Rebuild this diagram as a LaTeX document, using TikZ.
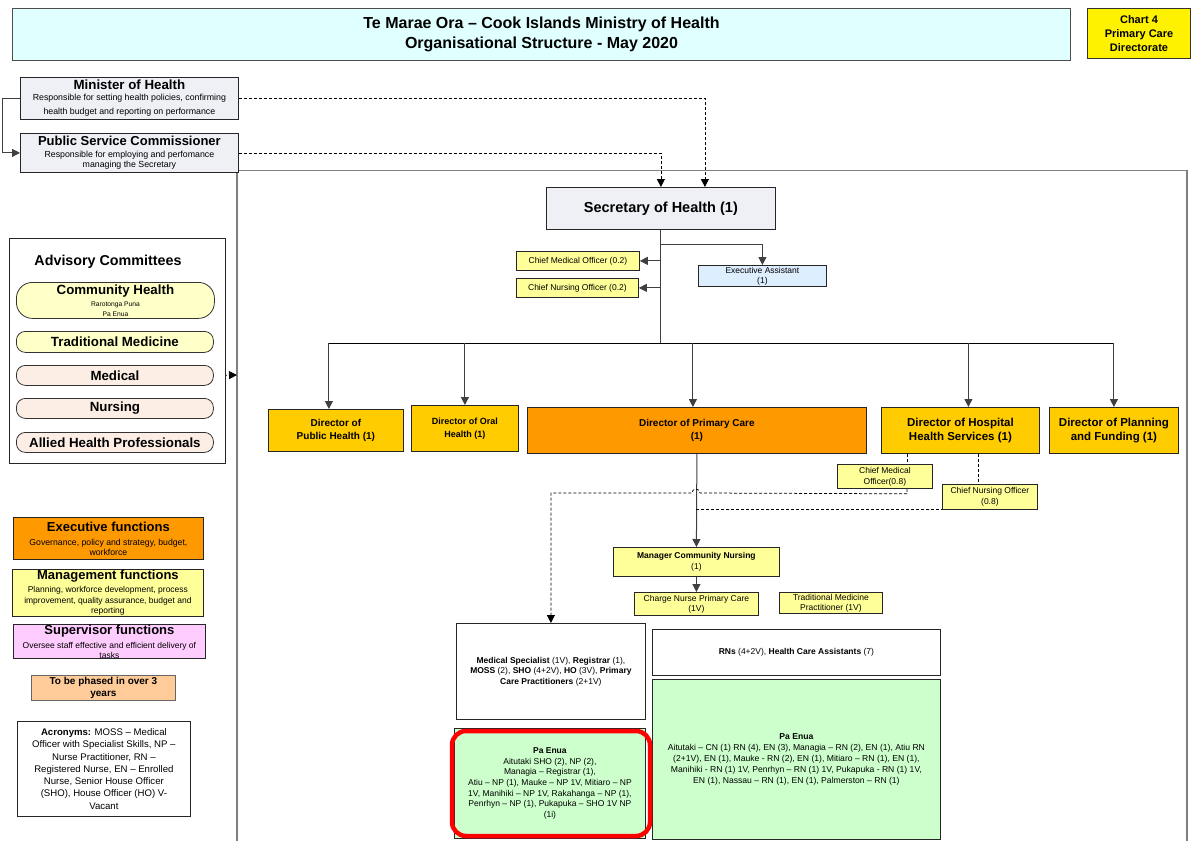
\documentclass[tikz,border=0pt]{standalone}
\usepackage{fontspec}
\setmainfont{Liberation Sans}
\usetikzlibrary{arrows.meta}
\newcommand{\fsz}[2]{\fontsize{#1}{#2}\selectfont}
\definecolor{titlecyan}{HTML}{E0FFFF}
\definecolor{secfill}{HTML}{EEF0F6}
\definecolor{gold}{HTML}{FFCC00}
\definecolor{orng}{HTML}{FF9900}
\definecolor{lyellow}{HTML}{FFFF99}
\definecolor{eablue}{HTML}{DDEEFF}
\definecolor{lgreen}{HTML}{CCFFCC}
\definecolor{pillyel}{HTML}{FFFFC8}
\definecolor{pillpeach}{HTML}{FCEEE4}
\definecolor{pinkf}{HTML}{FFCCFF}
\definecolor{peachf}{HTML}{FFCC99}
\definecolor{framegray}{HTML}{7F7F7F}
\pgfdeclarelayer{bg}
\pgfsetlayers{bg,main}
\begin{document}
\begin{tikzpicture}[x=1pt,y=-1pt,
  box/.style={draw=black!85, line width=0.8pt, inner sep=0pt, align=center, anchor=north west},
  sz/.style 2 args={minimum width=#1pt, minimum height=#2pt},
  pill/.style={box, rounded corners=9pt, draw=black!80},
  conn/.style={draw=black!75, line width=1pt},
  arr/.style={conn, -{Triangle[length=8pt,width=8pt]}},
  dsh/.style={draw=black, line width=0.75pt, dash pattern=on 3pt off 2pt},
  darr/.style={dsh, -{Triangle[length=8pt,width=8pt]}},
  lbl/.style={inner sep=0pt, align=center}
]
\useasboundingbox (0,0) rectangle (1198,840);

% ---------- header ----------
\node[box, sz={1058}{52}, fill=titlecyan, draw=black!70, line width=1pt, font=\fsz{16}{20}\bfseries] (title) at (12,8)
  {Te Marae Ora – Cook Islands Ministry of Health\\ Organisational Structure - May 2020};
\node[box, sz={103}{50}, fill=yellow, draw=black!80, line width=1pt, font=\fsz{11}{14}\bfseries] (chart) at (1087,8)
  {Chart 4\\ Primary Care\\ Directorate};

\node[box, sz={218}{42}, fill=secfill, font=\fsz{8.8}{14}] (min) at (20,77)
  {\fsz{13.3}{13}\bfseries Minister of Health\\[-3pt]
   Responsible for setting health policies, confirming\\ health budget and reporting on performance};
\node[box, sz={218}{39}, fill=secfill, font=\fsz{8.8}{10}] (psc) at (20,133)
  {\fsz{13}{13}\bfseries Public Service Commissioner\\[2pt]
   Responsible for employing and perfomance\\ managing the Secretary};

% ---------- secretary ----------
\node[box, sz={229}{42}, fill=secfill, font=\fsz{14.5}{16}\bfseries] (sec) at (546,187)
  {Secretary of Health (1)};
\node[box, sz={123}{19}, fill=lyellow, font=\fsz{8.5}{10}] (cmoA) at (516,251) {Chief Medical Officer (0.2)};
\node[box, sz={122}{19}, fill=lyellow, font=\fsz{8.5}{10}] (cnoA) at (516,278) {Chief Nursing Officer (0.2)};
\node[box, sz={128}{21}, fill=eablue, font=\fsz{8.5}{10}] (ea) at (698,265) {Executive Assistant\\ (1)};

% ---------- directors ----------
\node[box, sz={135}{42}, fill=gold, font=\fsz{10}{13}\bfseries] (dph) at (268,409) {Director of\\ Public Health (1)};
\node[box, sz={107}{46}, fill=gold, font=\fsz{9}{13}\bfseries] (doh) at (411,405) {Director of Oral\\ Health (1)};
\node[box, sz={339}{46}, fill=orng, font=\fsz{10}{13}\bfseries] (dpc) at (527,407) {Director of Primary Care\\ (1)};
\node[box, sz={158}{46}, fill=gold, font=\fsz{11.5}{14}\bfseries] (dhs) at (881,407) {Director of Hospital\\ Health Services (1)};
\node[box, sz={129}{46}, fill=gold, font=\fsz{11.5}{14}\bfseries] (dpf) at (1049,407) {Director of Planning\\ and Funding (1)};

\node[box, sz={95}{24}, fill=lyellow, font=\fsz{8.5}{11}] (cmoB) at (837,464) {Chief Medical\\ Officer(0.8)};
\node[box, sz={95}{25}, fill=lyellow, font=\fsz{8.5}{11}] (cnoB) at (942,484) {Chief Nursing Officer\\ (0.8)};

\node[box, sz={166}{29}, fill=lyellow, font=\fsz{8.5}{11}] (mcn) at (613,547) {\textbf{Manager Community Nursing}\\ (1)};
\node[box, sz={124}{23}, fill=lyellow, font=\fsz{8.5}{10}] (cnp) at (634,592) {Charge Nurse Primary Care\\ (1V)};
\node[box, sz={103}{21}, fill=lyellow, font=\fsz{8.5}{10}] (tmp) at (779,592) {Traditional Medicine\\ Practitioner (1V)};

% ---------- bottom boxes ----------
\node[box, sz={189}{96}, fill=white, font=\fsz{8.5}{10.5}] (msp) at (456,623)
  {\textbf{Medical Specialist} (1V), \textbf{Registrar} (1),\\
   \textbf{MOSS} (2), \textbf{SHO} (4+2V), \textbf{HO} (3V), \textbf{Primary}\\
   \textbf{Care Practitioners} (2+1V)};
\node[box, sz={288}{46}, fill=white, font=\fsz{8.5}{10}] (rns) at (652,629)
  {\textbf{RNs} (4+2V), \textbf{Health Care Assistants} (7)};
\node[box, sz={191}{110}, fill=lgreen, font=\fsz{8.5}{10.7}] (pel) at (454,728)
  {\textbf{Pa Enua}\\ Aitutaki SHO (2), NP (2),\\ Managia – Registrar (1),\\
   Atiu – NP (1), Mauke – NP 1V, Mitiaro – NP\\ 1V, Manihiki – NP 1V, Rakahanga – NP (1),\\
   Penrhyn – NP (1), Pukapuka – SHO 1V NP\\ (1i)};
\node[box, sz={288}{160}, fill=lgreen, font=\fsz{8.6}{11}] (per) at (652,679)
  {\textbf{Pa Enua}\\
   Aitutaki – CN (1) RN (4), EN (3), Managia – RN (2), EN (1), Atiu RN\\
   (2+1V), EN (1), Mauke - RN (2), EN (1), Mitiaro – RN (1), EN (1),\\
   Manihiki - RN (1) 1V, Penrhyn – RN (1) 1V, Pukapuka - RN (1) 1V,\\
   EN (1), Nassau – RN (1), EN (1), Palmerston – RN (1)};
\draw[red, line width=4.5pt, rounded corners=14pt] (452,731) rectangle (650,836);

% ---------- advisory committees ----------
\node[box, sz={216}{225}, fill=white] (adv) at (9,238) {};
\node[lbl, font=\fsz{14.3}{16}\bfseries] (advt) at (108,262) {Advisory Committees};
\node[pill, sz={198}{36}, fill=pillyel, rounded corners=16pt, font=\fsz{6.7}{10}] (ch) at (16,282)
  {\fsz{13.3}{13}\bfseries Community Health\\[2pt] Rarotonga Puna\\ Pa Enua};
\node[pill, sz={197}{21}, fill=pillyel, font=\fsz{13.3}{14}\bfseries] (tm) at (16,331) {Traditional Medicine};
\node[pill, sz={197}{20}, fill=pillpeach, font=\fsz{13.3}{14}\bfseries] (med) at (16,365) {Medical};
\node[pill, sz={197}{20}, fill=pillpeach, font=\fsz{13.3}{14}\bfseries] (nur) at (16,398) {Nursing};
\node[pill, sz={197}{20}, fill=pillpeach, font=\fsz{13.3}{14}\bfseries] (ahp) at (16,432) {Allied Health Professionals};

% ---------- legend ----------
\node[box, sz={190}{42}, fill=orng, font=\fsz{8.7}{10}] (exe) at (13,517)
  {\fsz{13}{13}\bfseries Executive functions\\[4pt] Governance, policy and strategy, budget,\\ workforce};
\node[box, sz={191}{47}, fill=lyellow, font=\fsz{8.5}{10.5}] (mgt) at (12,569)
  {\fsz{13}{13}\bfseries Management functions\\[3pt] Planning, workforce development, process\\ improvement, quality assurance, budget and\\ reporting};
\node[box, sz={192}{34}, fill=pinkf, font=\fsz{8.5}{10}] (sup) at (13,624)
  {\fsz{13}{13}\bfseries Supervisor functions\\[4pt] Oversee staff effective and efficient delivery of\\ tasks};
\node[box, sz={144}{25}, fill=peachf, draw=black!60, font=\fsz{10}{12}\bfseries] (tbp) at (31,675)
  {To be phased in over 3\\ years};
\node[box, sz={173}{95}, fill=white, font=\fsz{9.6}{12.3}] (acr) at (17,721)
  {\textbf{Acronyms:} MOSS – Medical\\ Officer with Specialist Skills, NP –\\ Nurse Practitioner, RN –\\
   Registered Nurse, EN – Enrolled\\ Nurse, Senior House Officer\\ (SHO), House Officer (HO) V-\\ Vacant};

\coordinate (frameL) at (237,375);
\coordinate (c907) at (907,0);
\coordinate (c978) at (978,0);

% ---------- connectors ----------
\begin{pgfonlayer}{bg}
  \draw[draw=framegray, line width=1.8pt] (237,845) -- (237,170.5) -- (1187,170.5) -- (1187,845);
  \draw[arr] (min.west) -- ++(-18,0) |- (psc.west);
  \draw[darr] (min.east) -| ([xshift=44pt]sec.north);
  \draw[darr] (psc.east) -| (sec.north);
  \draw[conn] (sec.south) -- (sec.south |- 0,343);
  \draw[arr] (sec.south |- cmoA.east) -- (cmoA.east);
  \draw[arr] (sec.south |- cnoA.east) -- (cnoA.east);
  \draw[arr] (sec.south) -- ++(0,15) -| (ea.north);
  \draw[draw=black, line width=0.9pt] ([xshift=-7pt]dph.north |- 0,343) -- (dpf.north |- 0,343);
  \draw[arr] ([xshift=-7pt]dph.north |- 0,343) -- ([xshift=-7pt]dph.north);
  \draw[arr] (doh.north |- 0,343) -- (doh.north);
  \draw[arr] ([xshift=-4pt]dpc.north |- 0,343) -- ([xshift=-4pt]dpc.north);
  \draw[arr] ([xshift=8pt]dhs.north |- 0,343) -- ([xshift=8pt]dhs.north);
  \draw[arr] (dpf.north |- 0,343) -- (dpf.north);
  \draw[arr] (dpc.south) -- (mcn.north);
  \draw[arr] (mcn.south) -- (cnp.north);
  \draw[dsh] (dhs.south -| c907) -- (cmoB.north -| c907);
  \draw[darr] (cmoB.south -| c907) -- ++(0,5) -- (700,493)
     arc[start angle=0, end angle=-180, radius=4] -- (msp.north |- 0,493) -- (msp.north);
  \draw[dsh] (dhs.south -| c978) -- (cnoB.south -| c978) -- (mcn.north |- cnoB.south);
  \draw[darr] (med.east) -- (frameL);
\end{pgfonlayer}
\end{tikzpicture}
\end{document}
